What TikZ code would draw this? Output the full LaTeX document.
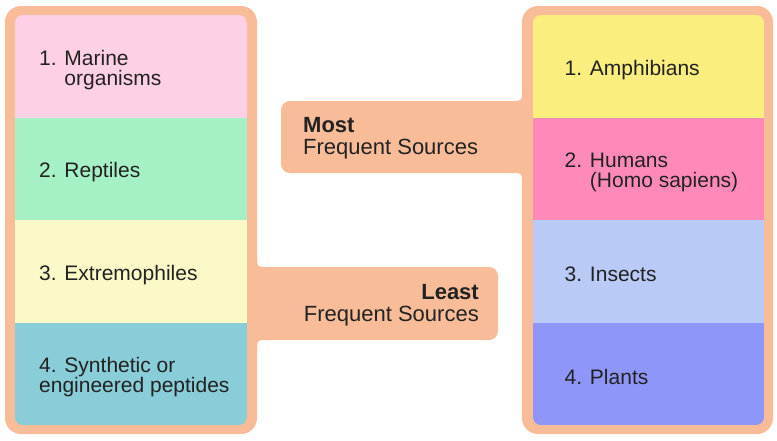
\documentclass[tikz,border=0pt]{standalone}
\usepackage{fontspec}
\setmainfont{Liberation Sans}
\usetikzlibrary{positioning}

\definecolor{peach}{HTML}{F9BC98}
\definecolor{ink}{HTML}{222222}
\definecolor{marinepink}{HTML}{FDD0E5}
\definecolor{reptgreen}{HTML}{A6F0C6}
\definecolor{extrcream}{HTML}{FBF9C8}
\definecolor{synthteal}{HTML}{89CDD9}
\definecolor{amphyellow}{HTML}{FAEE7E}
\definecolor{humanpink}{HTML}{FF8AB9}
\definecolor{insectblue}{HTML}{B9CAF6}
\definecolor{plantviolet}{HTML}{8F96F9}

\begin{document}
\begin{tikzpicture}[
  x=1pt, y=-1pt,
  font=\fontsize{21}{20}\selectfont,
  panel/.style={fill=peach, rounded corners=16pt},
  tab/.style={fill=peach},
  band/.style={minimum width=232pt, minimum height=102.5pt,
    inner sep=0pt, outer sep=0pt},
  item/.style={anchor=west, align=left, inner sep=0pt, text=ink,
    yshift=-3.5pt},
  tag/.style={inner sep=0pt, text=ink,
    font=\fontsize{22}{22}\selectfont}
]
  \useasboundingbox (0,0) rectangle (777,440);

  % outer frames
  \fill[panel] (5,6) rectangle (257,434);
  \fill[panel] (522,6) rectangle (773,434);

  % tabs joining the frames
  \fill[tab] (522,91) .. controls (522,101) .. (512,101)
    [rounded corners=9pt] -- (281,101) -- (281,173)
    [sharp corners] -- (512,173) .. controls (522,173) .. (522,183) -- cycle;
  \fill[tab] (257,257) .. controls (257,267) .. (267,267)
    [rounded corners=9pt] -- (498,267) -- (498,340)
    [sharp corners] -- (267,340) .. controls (257,340) .. (257,350) -- cycle;

  % left column
  \begin{scope}
    \clip[rounded corners=8pt] (15,15) rectangle (247,425);
    \node[band, fill=marinepink] (marine) at (131,66.25) {};
    \node[band, fill=reptgreen, below=0pt of marine] (reptiles) {};
    \node[band, fill=extrcream, below=0pt of reptiles] (extremo) {};
    \node[band, fill=synthteal, below=0pt of extremo] (synth) {};
  \end{scope}

  % right column
  \begin{scope}
    \clip[rounded corners=8pt] (533,15) rectangle (764,425);
    \node[band, fill=amphyellow] (amphib) at (648.5,66.25) {};
    \node[band, fill=humanpink, below=0pt of amphib] (humans) {};
    \node[band, fill=insectblue, below=0pt of humans] (insects) {};
    \node[band, fill=plantviolet, below=0pt of insects] (plants) {};
  \end{scope}

  \node[item] at ([xshift=24pt]marine.west) {1. Marine\\\phantom{1. }organisms};
  \node[item] at ([xshift=24pt]reptiles.west) {2. Reptiles};
  \node[item] at ([xshift=24pt]extremo.west) {3. Extremophiles};
  \node[item] at ([xshift=24pt]synth.west) {4. Synthetic or\\engineered peptides};

  \node[item] at ([xshift=32pt]amphib.west) {1. Amphibians};
  \node[item] at ([xshift=32pt]humans.west) {2. Humans\\\phantom{2. }(Homo sapiens)};
  \node[item] at ([xshift=32pt]insects.west) {3. Insects};
  \node[item] at ([xshift=32pt]plants.west) {4. Plants};

  \node[tag, anchor=west, align=left] (most) at (303,138.5)
    {\textbf{Most}\\Frequent Sources};
  \node[tag, anchor=east, align=right] (least) at (479,305.5)
    {\textbf{Least}\\Frequent Sources};
\end{tikzpicture}
\end{document}
